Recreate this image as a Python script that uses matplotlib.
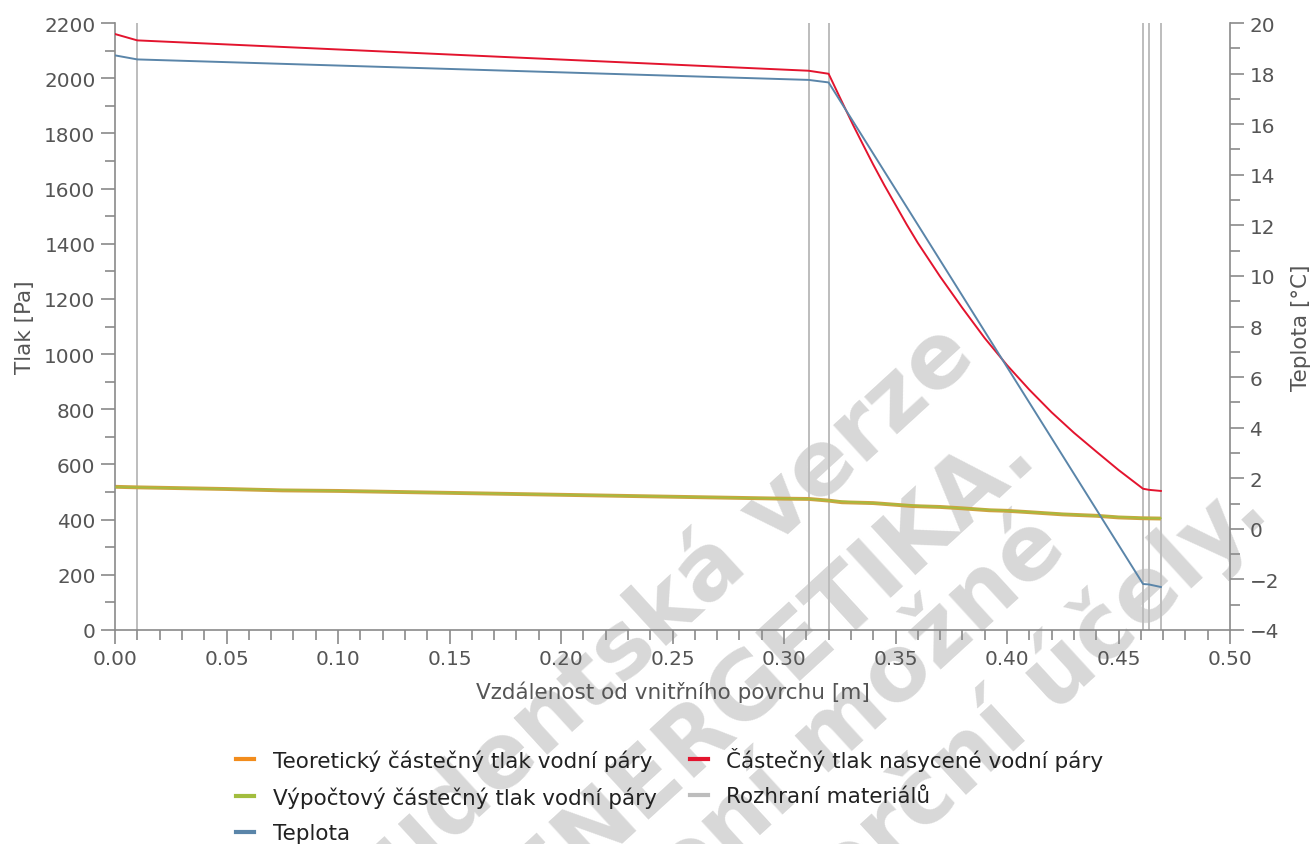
import matplotlib
matplotlib.use("Agg")
import matplotlib.pyplot as plt
from matplotlib.lines import Line2D
from matplotlib.ticker import MultipleLocator, FormatStrFormatter

plt.rcParams['font.family'] = ['DejaVu Sans']

# --- data -------------------------------------------------------------
# material interfaces [m]
interfaces = [0.01, 0.311, 0.32, 0.461, 0.4637, 0.469]

# temperature profile [°C]
temp_x = [0.0, 0.01, 0.311, 0.32, 0.461, 0.4637, 0.469]
temp_c = [18.72, 18.56, 17.75, 17.65, -2.18, -2.20, -2.30]

# saturated water vapour partial pressure [Pa]
psat_x = [0.0, 0.01, 0.311, 0.32, 0.325, 0.331, 0.335, 0.34, 0.345, 0.35,
          0.355, 0.36, 0.37, 0.38, 0.39, 0.40, 0.41, 0.42, 0.43, 0.44,
          0.45, 0.461, 0.4637, 0.469]
psat_pa = [2160, 2137, 2027, 2016, 1931, 1830, 1766, 1687, 1612, 1541,
           1470, 1403, 1281, 1167, 1058, 960, 871, 789, 715, 647,
           580, 512, 508, 504]

# computed partial pressure of water vapour [Pa]
pcalc_x = [0.0, 0.01, 0.311, 0.32, 0.44, 0.461, 0.4637, 0.469]
pcalc_pa = [518, 517, 475, 469, 414, 406, 405, 405]

# theoretical partial pressure of water vapour [Pa]
ptheo_x = [0.0, 0.01, 0.05, 0.075, 0.10, 0.15, 0.20, 0.25, 0.30, 0.311,
           0.32, 0.326, 0.34, 0.358, 0.37, 0.38, 0.392, 0.40, 0.41,
           0.425, 0.44, 0.45, 0.461, 0.469]
ptheo_pa = [519, 517, 511, 506, 504, 497, 490, 483, 476, 475,
            469, 463, 460, 449, 446, 441, 434, 432, 427,
            419, 414, 408, 405, 404]

labels = ["Teoretický částečný tlak vodní páry",
          "Výpočtový částečný tlak vodní páry",
          "Teplota",
          "Částečný tlak nasycené vodní páry",
          "Rozhraní materiálů"]

watermark_lines = ["Studentská verze",
                   "DEKSOFT ENERGETIKA.",
                   "Není možné",
                   "použít pro komerční účely."]

# --- styling ------------------------------------------------------------
W, H = 1313, 845
c_orange = "#f28c1c"
c_mustard = "#cca441"
c_green = "#a2bd3e"
c_blue = "#5a85a9"
c_red = "#e3142e"
c_gray = "#bdbdbd"
c_axis = "#8a8a8a"
c_text = "#555555"
fs_tick = 14.4
fs_lab = 15.5

fig = plt.figure(figsize=(W / 100, H / 100), dpi=100)
fig.patch.set_facecolor("white")

# background watermark
wm_anchor = [(978, 360), (1040, 462), (1070, 552), (1272, 515)]
for line, (px, py) in zip(watermark_lines, wm_anchor):
    fig.text(px / W, 1 - py / H, line, rotation=42.5, rotation_mode="anchor",
             ha="right", va="baseline", fontsize=65, fontweight="bold",
             color="#d8d8d8", zorder=-1)

ax = fig.add_axes([115 / W, 1 - 631 / H, 1115 / W, 607 / H])
ax.set_facecolor("none")
ax2 = ax.twinx()

ax.set_xlim(0, 0.5)
ax.set_ylim(0, 2200)
ax2.set_ylim(-4, 20)

for xi in interfaces:
    ax.axvline(xi, color=c_gray, lw=1.4, zorder=1)

ax.plot(ptheo_x, ptheo_pa, color=c_mustard, lw=2.8, zorder=2,
        solid_capstyle="butt")
ax.plot(pcalc_x, pcalc_pa, color=c_green, lw=1.1, zorder=3)
ax.plot(psat_x, psat_pa, color=c_red, lw=1.4, zorder=3)
ax2.plot(temp_x, temp_c, color=c_blue, lw=1.4, zorder=3)

# axes
for a in (ax, ax2):
    for s in a.spines.values():
        s.set_color(c_axis)
        s.set_linewidth(1.2)
    a.spines["top"].set_visible(False)
ax.spines["right"].set_visible(False)
ax2.spines["left"].set_visible(False)
ax2.spines["bottom"].set_visible(False)

ax.xaxis.set_major_locator(MultipleLocator(0.05))
ax.xaxis.set_minor_locator(MultipleLocator(0.01))
ax.xaxis.set_major_formatter(FormatStrFormatter("%.2f"))
ax.yaxis.set_major_locator(MultipleLocator(200))
ax.yaxis.set_minor_locator(MultipleLocator(100))
ax2.yaxis.set_major_locator(MultipleLocator(2))
ax2.yaxis.set_minor_locator(MultipleLocator(1))

for a in (ax, ax2):
    a.tick_params(which="major", length=10, width=1.2, color=c_axis,
                  labelsize=fs_tick, labelcolor=c_text, pad=4)
    a.tick_params(which="minor", length=7, width=1.2, color=c_axis)

ax.set_xlabel("Vzdálenost od vnitřního povrchu [m]", fontsize=fs_lab,
              color=c_text)
ax.set_ylabel("Tlak [Pa]", fontsize=fs_lab, color=c_text)
ax2.set_ylabel("Teplota [°C]", fontsize=fs_lab, color=c_text)
ax.xaxis.set_label_coords(0.5, -0.083)
ax.yaxis.set_label_coords(-0.072, 0.5)
ax2.yaxis.set_label_coords(1.055, 0.5)

handles = [Line2D([], [], color=c, lw=3) for c in
           (c_orange, c_green, c_blue, c_red, c_gray)]
fig.legend(handles, labels, ncol=2, frameon=False, fontsize=fs_lab,
           loc="upper left", bbox_to_anchor=(236 / W, 1 - 748 / H),
           handlelength=0.85, handletextpad=0.85, columnspacing=1.55,
           labelspacing=0.72, borderpad=0, borderaxespad=0,
           labelcolor="#222222")

fig.savefig("out.png", dpi=100, facecolor="white")
